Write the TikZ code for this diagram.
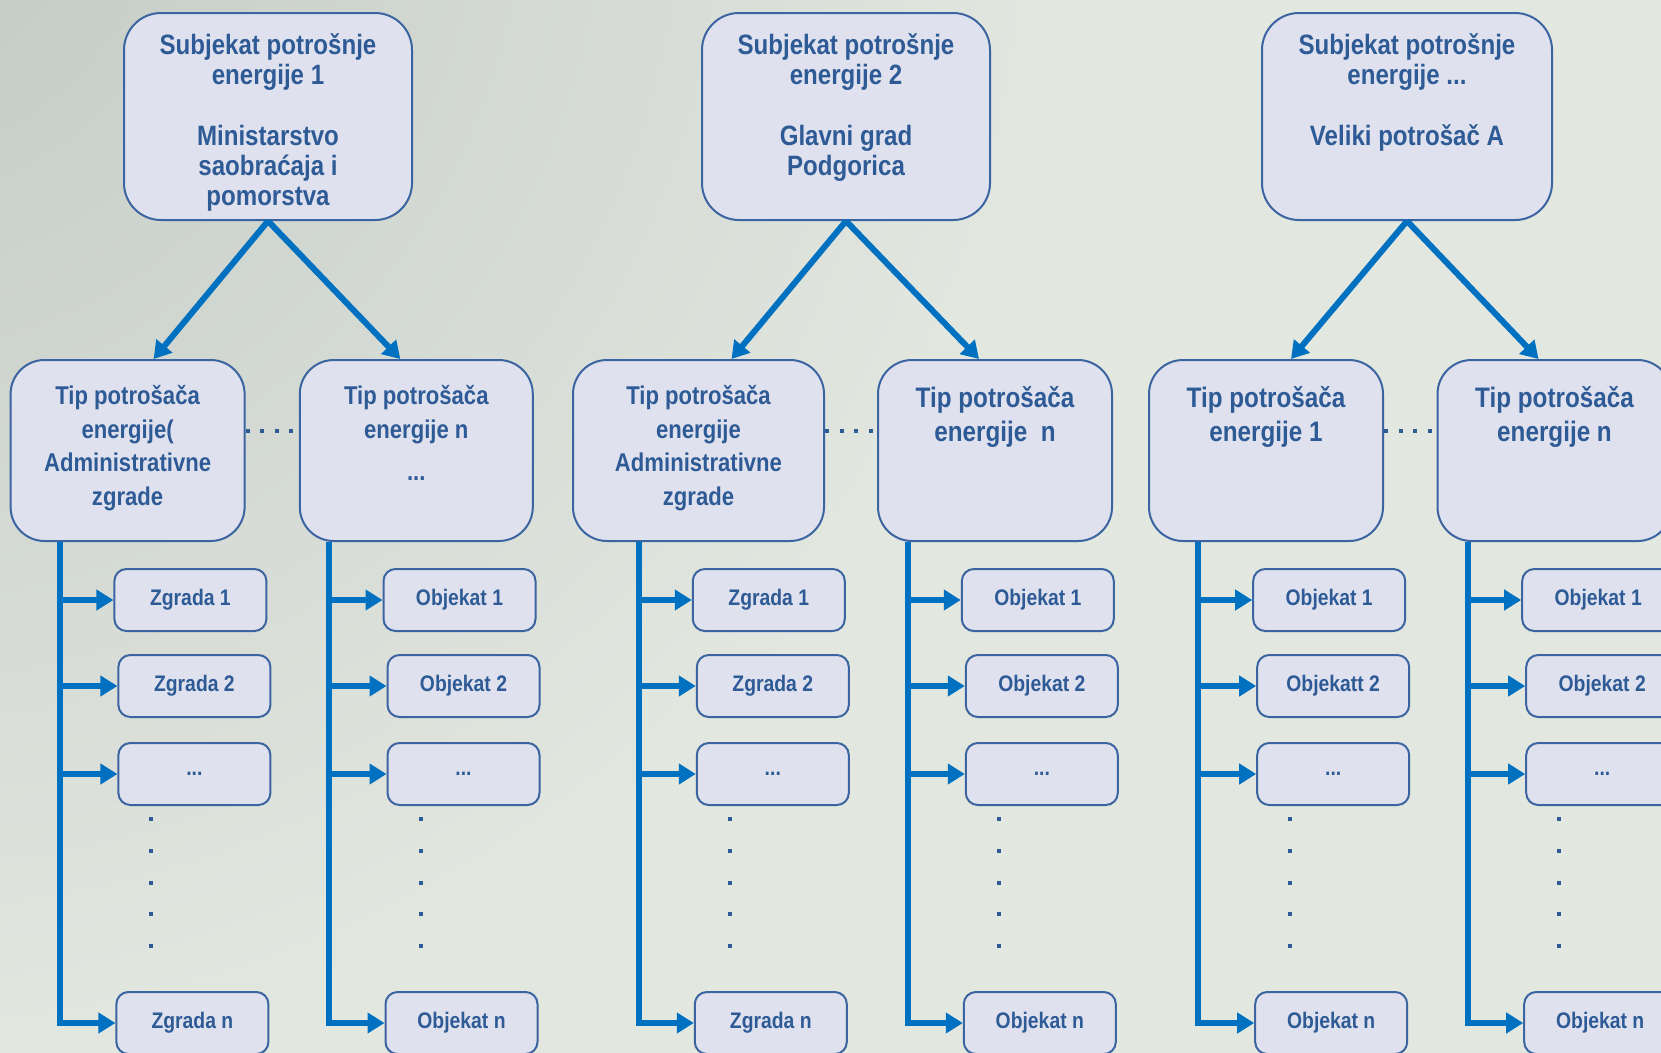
\documentclass[tikz,border=0pt]{standalone}
\usepackage{fontspec}
\setmainfont[FakeStretch=0.86]{Liberation Sans}
\usetikzlibrary{arrows.meta}
\usetikzlibrary{positioning}

\definecolor{bgdark}{HTML}{C2C9C3}
\definecolor{bglight}{HTML}{E2E7E0}
\definecolor{boxfill}{HTML}{DFE2EE}
\definecolor{boxline}{HTML}{3B64A0}
\definecolor{textblue}{HTML}{2E5B96}
\definecolor{arrowblue}{HTML}{0070C0}

\pgfdeclareradialshading{bgglow}{\pgfpoint{0bp}{0bp}}{color(0bp)=(bgdark); color(13bp)=(bglight); color(50bp)=(bglight)}

\begin{document}
\begin{tikzpicture}[x=1pt, y=-1pt,
    topbox/.style={draw=boxline, line width=2pt, fill=boxfill, rounded corners=37pt,
        minimum width=288pt, minimum height=207pt, inner sep=0pt},
    typebox/.style={draw=boxline, line width=2pt, fill=boxfill, rounded corners=34pt,
        minimum width=234pt, minimum height=181pt, inner sep=0pt},
    leaf/.style={draw=boxline, line width=2pt, fill=boxfill, rounded corners=12pt,
        minimum width=152pt, minimum height=62pt, inner sep=0pt, text=textblue,
        font=\bfseries\fontsize{22.5pt}{27pt}\selectfont},
    toptext/.style={anchor=north, align=center, inner sep=0pt, text=textblue,
        font=\bfseries\fontsize{28pt}{30.3pt}\selectfont},
    typetext/.style={anchor=north, align=center, inner sep=0pt, text=textblue,
        font=\bfseries\fontsize{25.7pt}{33.7pt}\selectfont},
    bigtext/.style={typetext, font=\bfseries\fontsize{28.2pt}{34pt}\selectfont},
    feed/.style={draw=arrowblue, line width=6pt, -{Triangle[length=17pt,width=20pt]}},
    branch/.style={draw=arrowblue, line width=6pt, -{Triangle[length=17pt,width=20pt]}},
    dotrow/.style={draw=textblue, line width=4pt, dash pattern=on 4pt off 10.5pt},
    vdots/.style={draw=textblue, line width=4pt, dash pattern=on 4pt off 27.75pt}
]

    % Background
    \useasboundingbox (0,0) rectangle (1661,1052);
    \clip (0,0) rectangle (1661,1052);
    \shade[shading=bgglow] (-120,-120) circle (2300);

    % Energy consumers
    \node[topbox] (s1) at (268,116.5) {};
    \node[topbox] (s2) at (846,116.5) {};
    \node[topbox, minimum width=290pt] (s3) at (1407,116.5) {};
    \node[toptext] (s1t) at ([yshift=-21pt]s1.north)
        {Subjekat potrošnje\\energije 1\\[30.3pt]Ministarstvo\\saobraćaja i\\pomorstva};
    \node[toptext] (s2t) at ([yshift=-21pt]s2.north)
        {Subjekat potrošnje\\energije 2\\[30.3pt]Glavni grad\\Podgorica};
    \node[toptext] (s3t) at ([yshift=-21pt]s3.north)
        {Subjekat potrošnje\\energije ...\\[30.3pt]Veliki potrošač A};

    % Consumer types
    \node[typebox] (m1a) at (127.6,450.5) {};
    \node[typebox, minimum width=233pt] (m1b) at (416.3,450.5) {};
    \node[typebox, minimum width=251pt] (m2a) at (698.5,450.5) {};
    \node[typebox] (m2b) at (995,450.5) {};
    \node[typebox] (m3a) at (1266,450.5) {};
    \node[typebox] (m3b) at (1554.5,450.5) {};
    \node[typetext] (m1at) at ([yshift=-26pt]m1a.north)
        {Tip potrošača\\energije(\\Administrativne\\zgrade};
    \node[typetext] (m1bt) at ([yshift=-26pt]m1b.north)
        {Tip potrošača\\energije n\\[9pt]...};
    \node[typetext] (m2at) at ([yshift=-26pt]m2a.north)
        {Tip potrošača\\energije\\Administrativne\\zgrade};
    \node[bigtext] (m2bt) at ([yshift=-27pt]m2b.north) {Tip potrošača\\energije \ n};
    \node[bigtext] (m3at) at ([yshift=-27pt]m3a.north) {Tip potrošača\\energije 1};
    \node[bigtext] (m3bt) at ([yshift=-27pt]m3b.north) {Tip potrošača\\energije n};

    % Arrows from consumers to types
    \draw[feed] (s1.south) -- ([xshift=26pt]m1a.north);
    \draw[feed] (s1.south) -- ([xshift=-16pt]m1b.north);
    \draw[feed] (s2.south) -- ([xshift=33pt]m2a.north);
    \draw[feed] (s2.south) -- ([xshift=-16pt]m2b.north);
    \draw[feed] (s3.south) -- ([xshift=25pt]m3a.north);
    \draw[feed] (s3.south) -- ([xshift=-16pt]m3b.north);

    % Dots between types
    \draw[dotrow] ([yshift=20pt]m1a.east) -- ([yshift=20pt]m1b.west);
    \draw[dotrow] ([yshift=20pt]m2a.east) -- ([yshift=20pt]m2b.west);
    \draw[dotrow] ([yshift=20pt]m3a.east) -- ([yshift=20pt]m3b.west);

    % Buildings and objects
    \foreach \col/\tx/\lx/\wa/\wb/\wn in {
        1a/60.4/114.4/Zgrada 1/Zgrada 2/Zgrada n,
        1b/329.4/383.5/Objekat 1/Objekat 2/Objekat n,
        2a/638.8/692.8/Zgrada 1/Zgrada 2/Zgrada n,
        2b/907.8/961.8/Objekat 1/Objekat 2/Objekat n,
        3a/1198/1253.2/Objekat 1/Objekatt 2/Objekat n,
        3b/1468/1522.2/Objekat 1/Objekat 2/Objekat n} {
        \coordinate (k\col) at (m\col.south -| \tx,0);
        \node[leaf] (l\col1) at (\lx+76,600) {\wa};
        \node[leaf] (l\col2) at (\lx+80,686) {\wb};
        \node[leaf] (l\col3) at (\lx+80,774) {...};
        \node[leaf] (l\col4) at (\lx+78,1023) {\wn};
        \foreach \k in {1,2,3} {
            \draw[branch] (k\col |- l\col\k.west) -- (l\col\k.west);
        }
        \draw[branch] (k\col) |- (l\col4.west);
        \draw[vdots] (\lx+37,817) -- (\lx+37,950);
    }

\end{tikzpicture}
\end{document}
